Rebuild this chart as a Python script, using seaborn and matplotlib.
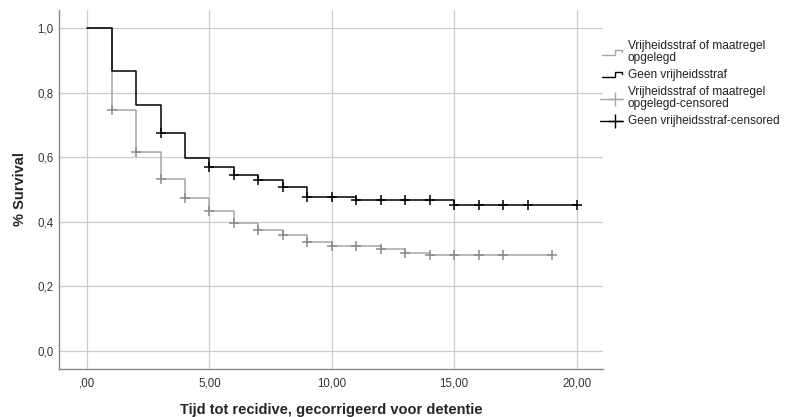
import matplotlib
matplotlib.use("Agg")
import matplotlib.pyplot as plt
from matplotlib.lines import Line2D
from matplotlib.legend_handler import HandlerBase
import seaborn as sns
import pandas as pd
import numpy as np

# Kaplan-Meier steps
geen_t = [0, 1, 2, 3, 4, 5, 6, 7, 8, 9, 11, 15, 20]
geen_s = [1.0, 0.869, 0.763, 0.676, 0.599, 0.571, 0.544, 0.529, 0.507, 0.476, 0.466, 0.452, 0.452]
geen_cens = [3, 5, 6, 7, 8, 9, 10, 11, 12, 13, 14, 15, 16, 17, 18, 20]

vrij_t = [0, 1, 2, 3, 4, 5, 6, 7, 8, 9, 10, 12, 13, 14, 19]
vrij_s = [1.0, 0.747, 0.617, 0.533, 0.475, 0.434, 0.396, 0.375, 0.359, 0.336, 0.325, 0.314, 0.304, 0.298, 0.298]
vrij_cens = [1, 2, 3, 4, 5, 6, 7, 8, 9, 10, 11, 12, 13, 14, 15, 16, 17, 19]

x_ticks = [0, 5, 10, 15, 20]
x_ticklabels = [",00", "5,00", "10,00", "15,00", "20,00"]
y_ticks = [0.0, 0.2, 0.4, 0.6, 0.8, 1.0]
y_ticklabels = ["0,0", "0,2", "0,4", "0,6", "0,8", "1,0"]

VRIJ = "Vrijheidsstraf of maatregel\nopgelegd"
GEEN = "Geen vrijheidsstraf"
grey_line = "#a6a6a6"
grey_mark = "#8a8a8a"


def step_value(ts, ss, t):
    idx = np.searchsorted(ts, t, side="right") - 1
    return ss[idx]


class StepHandler(HandlerBase):
    def create_artists(self, legend, orig_handle, xdescent, ydescent, width, height, fontsize, trans):
        xs = [0, 0.6 * width, 0.6 * width, 0.95 * width, 0.95 * width]
        ys = [0.15 * height, 0.15 * height, 0.75 * height, 0.75 * height, 0.5 * height]
        ln = Line2D(xs, ys, color=orig_handle.get_color(), lw=1.0, transform=trans)
        return [ln]


class CensHandler(HandlerBase):
    def create_artists(self, legend, orig_handle, xdescent, ydescent, width, height, fontsize, trans):
        y = 0.4 * height
        ln = Line2D([-0.1 * width, width], [y, y], color=orig_handle.get_color(), lw=1.0, transform=trans)
        mk = Line2D([0.6 * width], [y], marker="+", markersize=10, mew=1.0, linestyle="none",
                    color=orig_handle.get_color(), transform=trans)
        return [ln, mk]


lines = pd.DataFrame({
    "tijd": vrij_t + geen_t,
    "surv": vrij_s + geen_s,
    "groep": [VRIJ] * len(vrij_t) + [GEEN] * len(geen_t),
})
cens = pd.DataFrame({
    "tijd": vrij_cens + geen_cens,
    "surv": [step_value(vrij_t, vrij_s, t) for t in vrij_cens] + [step_value(geen_t, geen_s, t) for t in geen_cens],
    "groep": [VRIJ] * len(vrij_cens) + [GEEN] * len(geen_cens),
})

sns.set_theme(style="white")
plt.rcParams['font.family'] = ['Liberation Sans', 'DejaVu Sans']

fig = plt.figure(figsize=(7.85, 4.17), dpi=100)
ax = fig.add_axes([59 / 785, 1 - 369 / 417, (603 - 59) / 785, (369 - 10) / 417])

sns.lineplot(data=lines, x="tijd", y="surv", hue="groep", palette={VRIJ: grey_line, GEEN: "black"},
             estimator=None, sort=False, drawstyle="steps-post", linewidth=1.1, legend=False, ax=ax)
for g, c in [(VRIJ, grey_mark), (GEEN, "black")]:
    sub = cens[cens["groep"] == g]
    ax.plot(sub["tijd"], sub["surv"], linestyle="none", marker="+", markersize=6.5, mew=1.1, color=c, zorder=4)

ax.set_xlim(-1.15, 21.08)
ax.set_ylim(-0.057, 1.057)
ax.set_xticks(x_ticks)
ax.set_xticklabels(x_ticklabels, fontsize=8.3)
ax.set_yticks(y_ticks)
ax.set_yticklabels(y_ticklabels, fontsize=8.3)
ax.tick_params(axis="x", length=0, pad=6, colors="#333333")
ax.tick_params(axis="y", length=0, pad=4, colors="#333333")
ax.grid(True, color="#cccccc", linewidth=0.9)
ax.set_axisbelow(True)
for s in ["top", "right"]:
    ax.spines[s].set_visible(False)
for s in ["left", "bottom"]:
    ax.spines[s].set_color("#888888")
    ax.spines[s].set_linewidth(1.0)

ax.set_xlabel("Tijd tot recidive, gecorrigeerd voor detentie", fontsize=10.5, fontweight="bold")
ax.set_ylabel("% Survival", fontsize=10.5, fontweight="bold")
ax.xaxis.set_label_coords(0.5, -0.094)
ax.yaxis.set_label_coords(-0.058, 0.5)

handles = [Line2D([], [], color=grey_line), Line2D([], [], color="black"),
           Line2D([], [], color=grey_line), Line2D([], [], color="black")]
labels = [VRIJ, GEEN, "Vrijheidsstraf of maatregel\nopgelegd-censored", "Geen vrijheidsstraf-censored"]
leg = fig.legend(handles, labels, loc="upper left", bbox_to_anchor=(602 / 785, 1 - 40 / 417),
                 frameon=False, fontsize=8.6, handlelength=1.75, handletextpad=0.4, labelspacing=0.42,
                 borderpad=0, borderaxespad=0,
                 handler_map={handles[0]: StepHandler(), handles[1]: StepHandler(),
                              handles[2]: CensHandler(), handles[3]: CensHandler()})
for t in leg.get_texts():
    t.set_linespacing(1.0)
    t.set_color("#222222")

fig.savefig("out.png", dpi=100)
